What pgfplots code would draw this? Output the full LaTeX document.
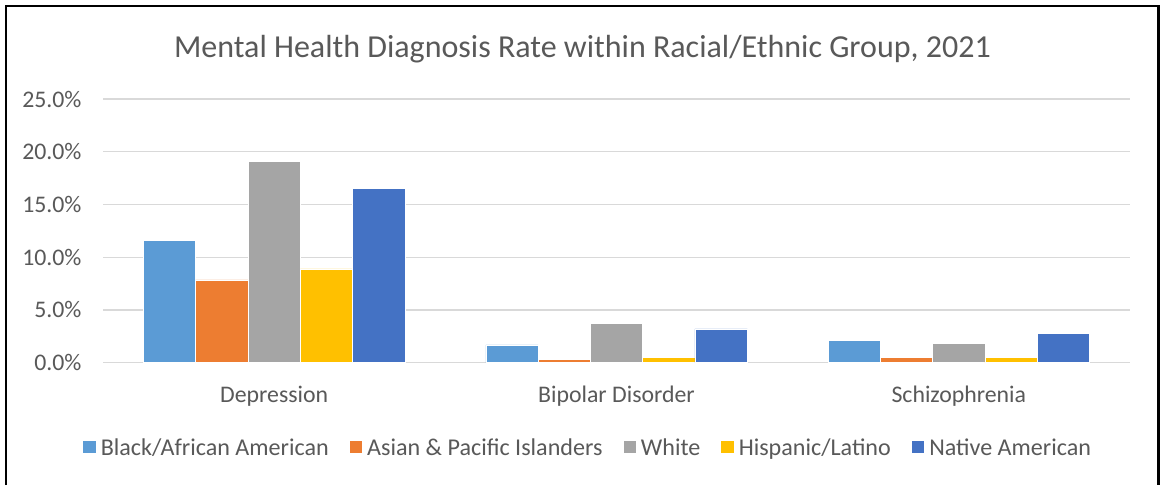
\documentclass[border=0pt]{standalone}
\usepackage{pgfplots}
\pgfplotsset{compat=1.18}
\usepackage{fontspec}
\setmainfont{Carlito}
\definecolor{cBlack}{HTML}{5B9BD5}
\definecolor{cAsian}{HTML}{ED7D31}
\definecolor{cWhite}{HTML}{A5A5A5}
\definecolor{cHisp}{HTML}{FFC000}
\definecolor{cNative}{HTML}{4472C4}
\definecolor{txt}{HTML}{595959}
\definecolor{gridc}{HTML}{D9D9D9}
\begin{document}
\begin{tikzpicture}[x=1pt,y=1pt]
\useasboundingbox (0,0) rectangle (1160,485);
\fill[white] (0,0) rectangle (1160,485);
\begin{axis}[
  at={(103pt,122.3pt)}, anchor=south west,
  scale only axis, width=1027pt, height=263.7pt,
  xmin=-0.5, xmax=2.5, ymin=0, ymax=25,
  xtick={0,1,2}, xticklabels={Depression,Bipolar Disorder,Schizophrenia},
  ytick={0,5,10,15,20,25},
  yticklabels={0.0\%,5.0\%,10.0\%,15.0\%,20.0\%,25.0\%},
  major tick length=0pt,
  axis x line=bottom, axis y line=left,
  axis line style={draw=none},
  ymajorgrids, grid style={gridc, line width=1.4pt},
  ybar=0pt, bar width=52.3pt,
  every axis plot/.append style={draw=white, line width=0.5pt},
  tick label style={text=txt, font=\fontsize{23.8}{28}\selectfont},
  yticklabel style={anchor=east, inner sep=0pt, xshift=-21.3pt},
  xticklabel style={anchor=base, inner sep=0pt, yshift=-40pt},
  legend columns=5,
  legend image code/.code={\fill[#1] (0pt,-6.65pt) rectangle (13.3pt,6.65pt);},
  legend style={at={(0.471,-0.32)}, anchor=center, draw=none, fill=none,
    font=\fontsize{24.1}{28}\selectfont, text=txt,
    nodes={inner sep=0pt, text depth=0pt},
    /tikz/every even column/.append style={column sep=20pt},
    /tikz/every odd column/.append style={column sep=4.6pt}},
]
\addplot[fill=cBlack] coordinates {(0,11.6) (1,1.7) (2,2.1)};
\addplot[fill=cAsian] coordinates {(0,7.85) (1,0.3) (2,0.5)};
\addplot[fill=cWhite] coordinates {(0,19.1) (1,3.7) (2,1.8)};
\addplot[fill=cHisp] coordinates {(0,8.9) (1,0.5) (2,0.5)};
\addplot[fill=cNative] coordinates {(0,16.5) (1,3.2) (2,2.8)};
\legend{Black/African American, Asian \& Pacific Islanders, White, Hispanic/Latino, Native American}
\end{axis}
\node[text=txt, font=\fontsize{32}{38}\selectfont, anchor=base, inner sep=0pt] at (582.5,427.3) {Mental Health Diagnosis Rate within Racial/Ethnic Group, 2021};
\draw[black, line width=2.2pt] (6,0) -- (6,479) -- (1158.5,479) -- (1158.5,0);
\end{tikzpicture}
\end{document}
